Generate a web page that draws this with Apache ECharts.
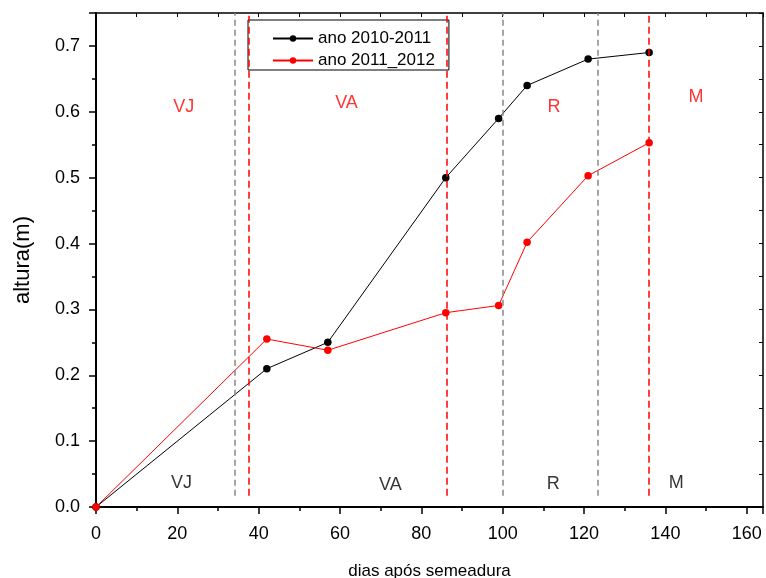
<!DOCTYPE html>
<html>
<head>
<meta charset="utf-8">
<script src="https://cdn.jsdelivr.net/npm/echarts@6/dist/echarts.min.js"></script>
<style>
html,body{margin:0;padding:0;background:#fff;}
#chart{width:766px;height:578px;}
</style>
</head>
<body>
<div id="chart"></div>
<script>
// ---- data ----
const days2010 = [0, 42, 57, 86, 99, 106, 121, 136];
const alt2010  = [0, 0.21, 0.25, 0.50, 0.59, 0.64, 0.68, 0.69];
const days2011 = [0, 42, 57, 86, 99, 106, 121, 136];
const alt2011  = [0, 0.255, 0.238, 0.295, 0.306, 0.402, 0.503, 0.553];
const grayLines = [34, 100, 123.3];
const redLines  = [37.5, 86.2, 136];
const phases    = ['VJ', 'VA', 'R', 'M'];
const redLabelX = [21.6, 61.6, 112.6, 147.5];
const redLabelY = [0.607, 0.613, 0.607, 0.623];
const blkLabelX = [21.0, 72.4, 112.4, 142.7];
const blkLabelY = [0.036, 0.033, 0.035, 0.036];
const xTicks = [0, 20, 40, 60, 80, 100, 120, 140, 160];
const yTicks = [0.0, 0.1, 0.2, 0.3, 0.4, 0.5, 0.6, 0.7];

const FONT = 'Liberation Sans, Arial, sans-serif';
const XMAX = 164, YMAX = 0.75, LINE_BOTTOM = 0.017;

const vLine = (x) => [{coord: [x, LINE_BOTTOM]}, {coord: [x, YMAX]}];

const chart = echarts.init(document.getElementById('chart'));
chart.setOption({
  animation: false,
  textStyle: {fontFamily: FONT},
  grid: {left: 96, right: 3, top: 13, bottom: 71, containLabel: false, outerBoundsMode: 'none'},
  legend: {
    data: ['ano 2010-2011', 'ano 2011_2012'],
    orient: 'vertical',
    left: 248, top: 20,
    padding: [10, 14, 1, 24],
    itemGap: 5,
    itemWidth: 40, itemHeight: 8,
    borderColor: '#000', borderWidth: 1,
    textStyle: {fontSize: 17, lineHeight: 17, color: '#000', fontFamily: FONT},
    selectedMode: false
  },
  xAxis: [
    {
      type: 'value', min: 0, max: XMAX, interval: 20, position: 'bottom',
      name: 'dias após semeadura', nameLocation: 'middle', nameGap: 56,
      nameTextStyle: {fontSize: 17, color: '#000', fontFamily: FONT},
      axisLine: {show: true, onZero: false, lineStyle: {color: '#000', width: 2}},
      axisTick: {show: true, inside: false, length: 7, lineStyle: {color: '#000', width: 1.5}},
      axisLabel: {fontSize: 18, color: '#000', margin: 18, fontFamily: FONT,
        formatter: v => xTicks.includes(v) ? String(v) : ''},
      splitLine: {show: false}
    },
    {
      type: 'value', min: 0, max: XMAX, interval: 10, position: 'bottom',
      axisLine: {show: false},
      axisTick: {show: true, inside: false, length: 4, lineStyle: {color: '#000', width: 1.5}},
      axisLabel: {show: false}, splitLine: {show: false}
    },
    {
      type: 'value', min: 0, max: XMAX, interval: 10, position: 'top',
      axisLine: {show: true, onZero: false, lineStyle: {color: '#000', width: 1.5}},
      axisTick: {show: true, inside: true, length: 4, lineStyle: {color: '#000', width: 1}},
      axisLabel: {show: false}, splitLine: {show: false}
    }
  ],
  yAxis: [
    {
      type: 'value', min: 0, max: YMAX, interval: 0.1, position: 'left',
      name: 'altura(m)', nameLocation: 'middle', nameGap: 62,
      nameTextStyle: {fontSize: 22, color: '#000', fontFamily: FONT},
      axisLine: {show: true, onZero: false, lineStyle: {color: '#000', width: 2}},
      axisTick: {show: true, inside: false, length: 7, lineStyle: {color: '#000', width: 1.5}},
      axisLabel: {fontSize: 18, color: '#000', margin: 16, fontFamily: FONT,
        formatter: v => yTicks.some(t => Math.abs(t - v) < 1e-6) ? v.toFixed(1) : ''},
      splitLine: {show: false}
    },
    {
      type: 'value', min: 0, max: YMAX, interval: 0.05, position: 'left',
      axisLine: {show: false},
      axisTick: {show: true, inside: false, length: 4, lineStyle: {color: '#000', width: 1.5}},
      axisLabel: {show: false}, splitLine: {show: false}
    },
    {
      type: 'value', min: 0, max: YMAX, interval: 0.05, position: 'right',
      axisLine: {show: true, onZero: false, lineStyle: {color: '#000', width: 1.5}},
      axisTick: {show: true, inside: true, length: 4, lineStyle: {color: '#000', width: 1}},
      axisLabel: {show: false}, splitLine: {show: false}
    }
  ],
  series: [
    {
      name: 'ano 2010-2011', type: 'line',
      data: days2010.map((d, i) => [d, alt2010[i]]),
      symbol: 'circle', symbolSize: 7.5, showAllSymbol: true,
      lineStyle: {color: '#000', width: 1}, itemStyle: {color: '#000'},
      z: 3
    },
    {
      name: 'ano 2011_2012', type: 'line',
      data: days2011.map((d, i) => [d, alt2011[i]]),
      symbol: 'circle', symbolSize: 7.5, showAllSymbol: true,
      lineStyle: {color: '#ff0000', width: 1}, itemStyle: {color: '#ff0000'},
      z: 3
    },
    {
      name: 'gray-lines', type: 'line', data: [], z: 4,
      markLine: {
        silent: true, symbol: 'none', label: {show: false},
        lineStyle: {color: '#888888', type: [6, 4], width: 1.5},
        data: grayLines.map(vLine)
      }
    },
    {
      name: 'red-lines', type: 'line', data: [], z: 5,
      markLine: {
        silent: true, symbol: 'none', label: {show: false},
        lineStyle: {color: '#ff0000', type: [7, 4], width: 1.5},
        data: redLines.map(vLine)
      }
    },
    {
      name: 'red-labels', type: 'scatter', symbolSize: 0, z: 6,
      data: phases.map((p, i) => ({name: p, value: [redLabelX[i], redLabelY[i]]})),
      label: {show: true, position: 'inside', formatter: '{b}', color: '#ff0000', fontSize: 18, fontFamily: FONT}
    },
    {
      name: 'black-labels', type: 'scatter', symbolSize: 0, z: 6,
      data: phases.map((p, i) => ({name: p, value: [blkLabelX[i], blkLabelY[i]]})),
      label: {show: true, position: 'inside', formatter: '{b}', color: '#000', fontSize: 18, fontFamily: FONT}
    }
  ]
});
</script>
</body>
</html>
